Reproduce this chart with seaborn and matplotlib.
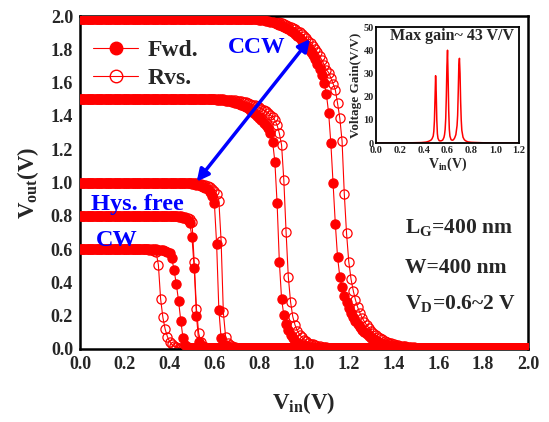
import numpy as np
import pandas as pd
import matplotlib
matplotlib.use("Agg")
import matplotlib.pyplot as plt
from matplotlib.lines import Line2D
import seaborn as sns

# Input sweep: 0 V to 2 V in 10 mV steps
vin = np.round(np.arange(0, 201) * 0.01, 2)

# Output voltage, one list per drain bias (forward / reverse sweep)
fwd_20 = ([1.98] * 80 +
          [1.978, 1.977, 1.975, 1.973, 1.970, 1.967, 1.963, 1.959, 1.954, 1.949,
           1.943, 1.936, 1.929, 1.921, 1.912, 1.902, 1.891, 1.879, 1.866, 1.852,
           1.837, 1.821, 1.803, 1.784, 1.763, 1.740, 1.714, 1.684, 1.648, 1.598,
           1.530, 1.420, 1.235, 0.995, 0.750, 0.550, 0.434, 0.370, 0.320, 0.280,
           0.245, 0.215, 0.190, 0.168, 0.148, 0.130, 0.115, 0.101, 0.089, 0.078,
           0.068, 0.059, 0.051, 0.044, 0.038, 0.033, 0.028, 0.024, 0.021, 0.018,
           0.016, 0.014, 0.012, 0.011, 0.010, 0.009, 0.008, 0.007, 0.006, 0.005] +
          [0.003] * 51)
rvs_20 = ([1.98] * 85 +
          [1.975, 1.972, 1.969, 1.966, 1.962, 1.958, 1.953, 1.948, 1.942, 1.936,
           1.929, 1.921, 1.912, 1.902, 1.891, 1.879, 1.866, 1.852, 1.837, 1.820,
           1.802, 1.782, 1.760, 1.735, 1.708, 1.678, 1.660, 1.628, 1.594, 1.556,
           1.475, 1.386, 1.249, 0.931, 0.695, 0.524, 0.420, 0.350, 0.294, 0.250,
           0.215, 0.187, 0.163, 0.143, 0.125, 0.110, 0.097, 0.085, 0.075, 0.066,
           0.058, 0.051, 0.045, 0.039, 0.034, 0.030, 0.026, 0.023, 0.020, 0.018,
           0.016, 0.014, 0.012, 0.010, 0.009, 0.008, 0.007, 0.006, 0.005, 0.004] +
          [0.003] * 46)
fwd_15 = ([1.50] * 60 +
          [1.499, 1.498, 1.497, 1.496, 1.494, 1.492, 1.490, 1.487, 1.484, 1.480,
           1.476, 1.471, 1.466, 1.460, 1.453, 1.445, 1.436, 1.426, 1.414, 1.401,
           1.390, 1.376, 1.360, 1.345, 1.330, 1.300, 1.245, 1.125, 0.875, 0.525,
           0.300, 0.204, 0.150, 0.112, 0.085, 0.065, 0.050, 0.039, 0.031, 0.025,
           0.020, 0.017, 0.014, 0.012, 0.010, 0.008, 0.007, 0.006, 0.005, 0.004] +
          [0.003] * 91)
rvs_15 = ([1.50] * 65 +
          [1.498, 1.497, 1.496, 1.495, 1.493, 1.491, 1.489, 1.487, 1.484, 1.481,
           1.477, 1.473, 1.468, 1.463, 1.457, 1.451, 1.444, 1.436, 1.427, 1.417,
           1.405, 1.392, 1.374, 1.345, 1.295, 1.225, 1.015, 0.705, 0.434, 0.284,
           0.194, 0.144, 0.110, 0.087, 0.070, 0.057, 0.047, 0.039, 0.032, 0.027,
           0.022, 0.019, 0.016, 0.013, 0.011, 0.010, 0.008, 0.007, 0.006, 0.005] +
          [0.003] * 86)
fwd_10 = ([1.00] * 45 +
          [0.999, 0.998, 0.997, 0.996, 0.995, 0.993, 0.991, 0.988, 0.985, 0.981,
           0.976, 0.969, 0.960, 0.946, 0.920, 0.875, 0.630, 0.235, 0.065, 0.030,
           0.018, 0.012, 0.009, 0.007, 0.005] +
          [0.003] * 131)
rvs_10 = ([1.00] * 50 +
          [0.998, 0.997, 0.995, 0.993, 0.990, 0.987, 0.983, 0.978, 0.971, 0.962,
           0.950, 0.930, 0.890, 0.650, 0.220, 0.075, 0.037, 0.022, 0.015, 0.011,
           0.008, 0.006, 0.005] +
          [0.003] * 128)
fwd_08 = ([0.80] * 40 +
          [0.799, 0.798, 0.797, 0.796, 0.794, 0.792, 0.789, 0.784, 0.776, 0.755,
           0.670, 0.485, 0.200, 0.044, 0.020, 0.012, 0.008, 0.006, 0.005] +
          [0.003] * 142)
rvs_08 = ([0.80] * 45 +
          [0.797, 0.795, 0.792, 0.787, 0.779, 0.765, 0.520, 0.240, 0.094, 0.040,
           0.020, 0.012, 0.008, 0.006, 0.005] +
          [0.003] * 141)
fwd_06 = ([0.60] * 33 +
          [0.599, 0.598, 0.597, 0.595, 0.592, 0.588, 0.581, 0.575, 0.545, 0.474,
           0.390, 0.290, 0.170, 0.065, 0.025, 0.012, 0.008, 0.006, 0.005] +
          [0.003] * 149)
rvs_06 = ([0.60] * 30 +
          [0.599, 0.597, 0.594, 0.588, 0.580, 0.505, 0.300, 0.190, 0.120, 0.075,
           0.045, 0.027, 0.016, 0.010, 0.007, 0.005] +
          [0.003] * 155)

fwd_curves = [fwd_06, fwd_08, fwd_10, fwd_15, fwd_20]
rvs_curves = [rvs_06, rvs_08, rvs_10, rvs_15, rvs_20]

# Voltage gain (inset)
gain_vin = [0.00, 0.10, 0.20, 0.30, 0.38, 0.42, 0.44, 0.46, 0.47, 0.48, 0.485,
            0.49, 0.495, 0.50, 0.505, 0.51, 0.515, 0.52, 0.53, 0.54, 0.55, 0.56,
            0.57, 0.575, 0.58, 0.585, 0.59, 0.595, 0.60, 0.605, 0.61, 0.615,
            0.62, 0.63, 0.64, 0.65, 0.66, 0.67, 0.68, 0.685, 0.69, 0.695, 0.70,
            0.705, 0.71, 0.715, 0.72, 0.73, 0.74, 0.75, 0.77, 0.80, 0.85, 0.90,
            1.00, 1.10, 1.20]
gain_val = [0.0, 0.0, 0.05, 0.1, 0.2, 0.4, 0.7, 1.2, 1.8, 3.0, 5.0,
            9.5, 19.0, 29.0, 22.0, 10.0, 4.0, 2.0, 1.0, 0.9, 1.0, 1.3,
            2.4, 3.6, 5.8, 10.5, 20.0, 33.0, 40.0, 28.0, 14.0, 6.0,
            3.0, 1.4, 1.2, 1.4, 2.2, 3.6, 7.5, 12.0, 22.0, 33.5, 36.5,
            30.0, 18.0, 10.0, 5.5, 2.5, 1.5, 1.0, 0.5, 0.3, 0.2, 0.1,
            0.05, 0.02, 0.0]

x_ticks = [0.0, 0.2, 0.4, 0.6, 0.8, 1.0, 1.2, 1.4, 1.6, 1.8, 2.0]
y_ticks = [0.0, 0.2, 0.4, 0.6, 0.8, 1.0, 1.2, 1.4, 1.6, 1.8, 2.0]

RED = "#ff0000"
BLUE = "#0000ff"

sns.set_theme(style="white")
plt.rcParams["font.family"] = ["Liberation Serif", "DejaVu Serif"]
plt.rcParams["font.weight"] = "bold"
plt.rcParams["axes.labelweight"] = "bold"
plt.rcParams["mathtext.fontset"] = "custom"
plt.rcParams["mathtext.rm"] = "Liberation Serif:bold"
plt.rcParams["mathtext.bf"] = "Liberation Serif:bold"
plt.rcParams["mathtext.it"] = "Liberation Serif:bold"
plt.rcParams["mathtext.default"] = "bf"

fig = plt.figure(figsize=(5.49, 4.22), dpi=100)
ax = fig.add_axes([0.1457, 0.173, 0.816, 0.789])

ms = 6.6
for y in rvs_curves:
    df = pd.DataFrame({"Vin": vin, "Vout": y})
    sns.lineplot(data=df, x="Vin", y="Vout", ax=ax, sort=False, estimator=None,
                 color=RED, lw=0.8, marker="o", markersize=ms,
                 markerfacecolor="none", markeredgecolor=RED,
                 markeredgewidth=0.9, zorder=2)
for y in fwd_curves:
    df = pd.DataFrame({"Vin": vin, "Vout": y})
    sns.lineplot(data=df, x="Vin", y="Vout", ax=ax, sort=False, estimator=None,
                 color=RED, lw=0.8, marker="o", markersize=ms,
                 markerfacecolor=RED, markeredgecolor=RED,
                 markeredgewidth=0.9, zorder=3)

ax.set_xlim(0, 2.0)
ax.set_ylim(0, 2.0)
ax.set_xticks(x_ticks)
ax.set_yticks(y_ticks)
ax.set_xticklabels([f"{v:.1f}" for v in x_ticks])
ax.set_yticklabels([f"{v:.1f}" for v in y_ticks])
ax.set_xticks(np.arange(0.1, 2.0, 0.2), minor=True)
ax.set_yticks(np.arange(0.1, 2.0, 0.2), minor=True)
ax.tick_params(which="both", direction="in", top=False, right=False,
               labelsize=13, width=1.5, color="black")
ax.tick_params(which="major", length=4.5, pad=5)
ax.tick_params(which="minor", length=2.5)
for s in ax.spines.values():
    s.set_linewidth(1.8)
    s.set_color("black")
ax.set_xlabel("V$_{in}$(V)", fontsize=16.5, labelpad=12)
ax.set_ylabel("V$_{out}$(V)", fontsize=16.5, labelpad=7)

# Legend
h_f = Line2D([], [], color=RED, lw=0.8, marker="o", markersize=9,
             markerfacecolor=RED, markeredgecolor=RED)
h_r = Line2D([], [], color=RED, lw=0.8, marker="o", markersize=9,
             markerfacecolor="none", markeredgecolor=RED)
ax.legend([h_f, h_r], ["Fwd.", "Rvs."], loc="upper left",
          bbox_to_anchor=(0.03, 0.93), frameon=False, fontsize=17,
          handlelength=1.9, handletextpad=0.4, labelspacing=0.3,
          borderpad=0, borderaxespad=0)

# Annotations
ax.text(0.66, 1.81, "CCW", color=BLUE, fontsize=17, fontweight="bold",
        va="center", ha="left")
ax.text(0.05, 0.87, "Hys. free", color=BLUE, fontsize=17.5, fontweight="bold",
        va="center", ha="left")
ax.text(0.07, 0.65, "CW", color=BLUE, fontsize=17.5, fontweight="bold",
        va="center", ha="left")
ax.annotate("", xy=(0.521, 1.005), xytext=(1.027, 1.862),
            arrowprops=dict(arrowstyle="<|-|>", color=BLUE, lw=2.5,
                            mutation_scale=18, shrinkA=0, shrinkB=0),
            zorder=5)
ax.text(1.45, 0.727, "L$_G$=400 nm", fontsize=15.5, va="center", ha="left")
ax.text(1.45, 0.487, "W=400 nm", fontsize=15.5, va="center", ha="left")
ax.text(1.45, 0.276, "V$_D$=0.6~2 V", fontsize=15.5, va="center", ha="left")

# Inset: voltage gain
ins = fig.add_axes([0.6849, 0.6611, 0.2605, 0.2749])
gdf = pd.DataFrame({"Vin": gain_vin, "Gain": gain_val})
sns.lineplot(data=gdf, x="Vin", y="Gain", ax=ins, sort=False, estimator=None,
             color=RED, lw=1.1)
ins.set_xlim(0, 1.2)
ins.set_ylim(0, 50)
ins.set_xticks([0.0, 0.2, 0.4, 0.6, 0.8, 1.0, 1.2])
ins.set_xticklabels(["0.0", "0.2", "0.4", "0.6", "0.8", "1.0", "1.2"])
ins.set_yticks([0, 10, 20, 30, 40, 50])
ins.set_xticks(np.arange(0.1, 1.2, 0.2), minor=True)
ins.set_yticks([5, 15, 25, 35, 45], minor=True)
ins.tick_params(which="both", direction="in", top=False, right=False,
                labelsize=7.5, width=1.0, pad=1.5)
ins.tick_params(axis="x", pad=2.5)
ins.tick_params(which="major", length=3)
ins.tick_params(which="minor", length=1.5)
for s in ins.spines.values():
    s.set_linewidth(1.3)
    s.set_color("black")
ins.set_xlabel("V$_{in}$(V)", fontsize=10, labelpad=0)
ins.set_ylabel("Voltage Gain(V/V)", fontsize=9.5, labelpad=1)
ins.text(0.53, 0.925, "Max gain~ 43 V/V", transform=ins.transAxes,
         fontsize=11.5, ha="center", va="center")

fig.savefig("out.png", dpi=100)
